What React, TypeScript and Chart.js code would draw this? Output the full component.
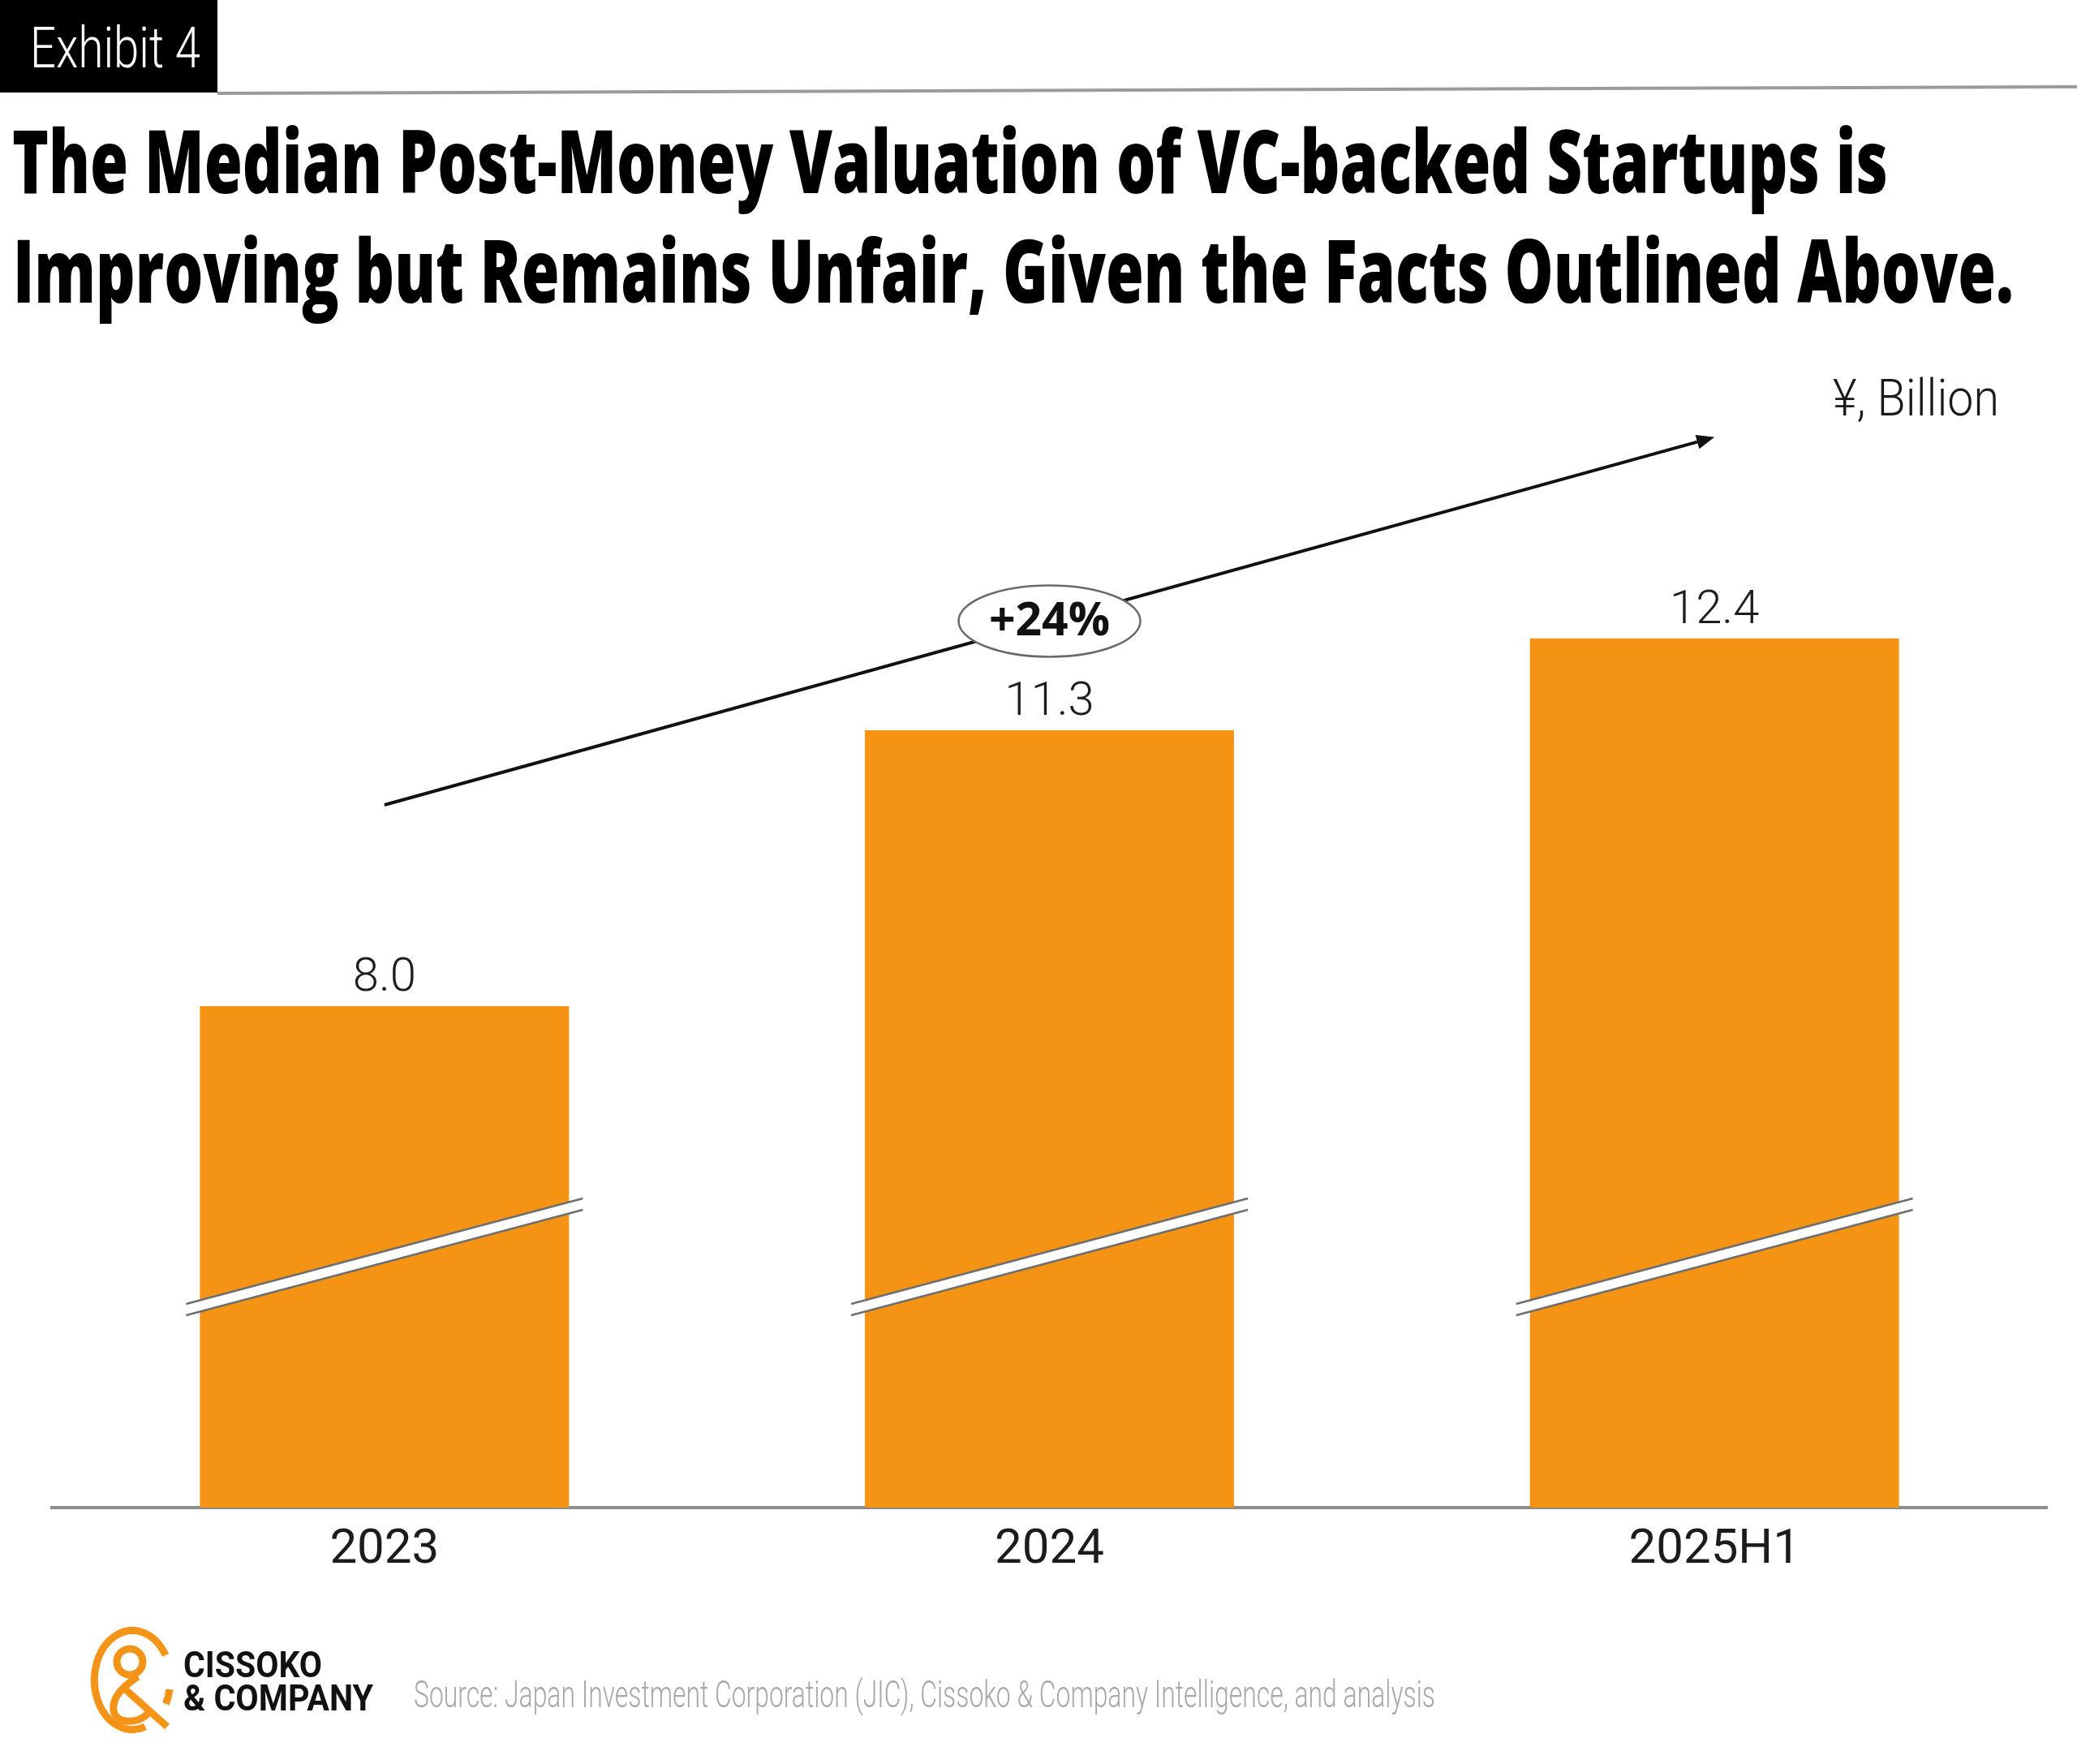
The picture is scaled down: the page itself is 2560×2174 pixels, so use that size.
import React, { useEffect, useRef } from 'react';
import { Chart, registerables } from 'chart.js';

Chart.register(...registerables);

// ---- data ----
const categories = ['2023', '2024', '2025H1'];
const valuations = [8.0, 11.3, 12.4];
const growthLabel = '+24%';
const axisMin = 2;
const axisMax = 14;
const breakAt = 5;

// ---- text ----
const exhibitLabel = 'Exhibit 4';
const titleLines = [
  'The Median Post-Money Valuation of VC-backed Startups is',
  'Improving but Remains Unfair, Given the Facts Outlined Above.',
];
const unitLabel = '¥, Billion';
const brandLines = ['CISSOKO', '& COMPANY'];
const sourceNote =
  'Source: Japan Investment Corporation (JIC), Cissoko & Company Intelligence, and analysis';

const BAR_COLOR = '#F49314';
const W = 2560;
const H = 2174;

// Axis-break marks, value labels, trend arrow and growth bubble
const annotatePlugin = {
  id: 'annotate',
  afterDatasetsDraw(chart: any) {
    const { ctx } = chart;
    const xs = chart.scales.x;
    const ys = chart.scales.y;
    const meta = chart.getDatasetMeta(0);
    ctx.save();

    // slanted double-line breaks across each bar
    const slope = -0.266;
    const gap = 7;
    const yc = ys.getPixelForValue(breakAt);
    meta.data.forEach((bar: any) => {
      const { x: bx, width } = bar.getProps(['x', 'width'], true);
      const half = width / 2 + 17;
      const xl = bx - half;
      const xr = bx + half;
      const yl = yc - slope * half;
      const yr = yc + slope * half;
      ctx.beginPath();
      ctx.moveTo(xl, yl - gap);
      ctx.lineTo(xr, yr - gap);
      ctx.lineTo(xr, yr + gap);
      ctx.lineTo(xl, yl + gap);
      ctx.closePath();
      ctx.fillStyle = '#ffffff';
      ctx.fill();
      ctx.strokeStyle = '#6e6e6e';
      ctx.lineWidth = 2.5;
      ctx.beginPath();
      ctx.moveTo(xl, yl - gap);
      ctx.lineTo(xr, yr - gap);
      ctx.stroke();
      ctx.beginPath();
      ctx.moveTo(xl, yl + gap);
      ctx.lineTo(xr, yr + gap);
      ctx.stroke();
    });

    // value labels above bars
    ctx.fillStyle = '#1e1e1e';
    ctx.font = '300 58px Roboto';
    ctx.textAlign = 'center';
    ctx.textBaseline = 'alphabetic';
    meta.data.forEach((bar: any, i: number) => {
      const { x: bx, y: by } = bar.getProps(['x', 'y'], true);
      ctx.fillText(valuations[i].toFixed(1), bx, by - 19);
    });

    // trend arrow from first to last bar
    const lift = 248;
    const last = valuations.length - 1;
    const x0 = xs.getPixelForValue(0);
    const y0 = ys.getPixelForValue(valuations[0]) - lift;
    const x1 = xs.getPixelForValue(last);
    const y1 = ys.getPixelForValue(valuations[last]) - lift;
    const ang = Math.atan2(y1 - y0, x1 - x0);
    const headLen = 22;
    const headHalf = 9;
    const bx1 = x1 - headLen * Math.cos(ang);
    const by1 = y1 - headLen * Math.sin(ang);
    ctx.strokeStyle = '#111111';
    ctx.lineWidth = 4;
    ctx.beginPath();
    ctx.moveTo(x0, y0);
    ctx.lineTo(bx1, by1);
    ctx.stroke();
    ctx.fillStyle = '#111111';
    ctx.beginPath();
    ctx.moveTo(x1, y1);
    ctx.lineTo(bx1 + headHalf * Math.sin(ang), by1 - headHalf * Math.cos(ang));
    ctx.lineTo(bx1 - headHalf * Math.sin(ang), by1 + headHalf * Math.cos(ang));
    ctx.closePath();
    ctx.fill();

    // growth bubble centred on the arrow above the middle bar
    const xm = xs.getPixelForValue(1);
    const ym = y0 + ((y1 - y0) * (xm - x0)) / (x1 - x0);
    ctx.beginPath();
    ctx.ellipse(xm, ym, 112, 44, 0, 0, Math.PI * 2);
    ctx.fillStyle = '#ffffff';
    ctx.fill();
    ctx.strokeStyle = '#6a6a6a';
    ctx.lineWidth = 2.5;
    ctx.stroke();
    ctx.fillStyle = '#111111';
    ctx.font = 'bold 57px "Open Sans"';
    ctx.textAlign = 'center';
    ctx.fillText(growthLabel, xm, ym + 18);

    ctx.restore();
  },
};

function ValuationChart() {
  const ref = useRef<HTMLCanvasElement | null>(null);

  useEffect(() => {
    if (!ref.current) return;
    const chart = new Chart(ref.current, {
      type: 'bar',
      data: {
        labels: categories,
        datasets: [
          {
            data: valuations,
            backgroundColor: BAR_COLOR,
            borderWidth: 0,
            barPercentage: 0.555,
            categoryPercentage: 1.0,
          },
        ],
      },
      options: {
        animation: false,
        responsive: false,
        devicePixelRatio: 1,
        events: [],
        layout: { padding: { left: 64, right: 37, top: 622, bottom: 196 } },
        plugins: {
          legend: { display: false },
          tooltip: { enabled: false },
          title: { display: false },
        },
        scales: {
          x: {
            offset: true,
            z: 1,
            grid: { display: false, drawTicks: false },
            border: { display: true, color: '#8c8c8c', width: 4 },
            ticks: {
              color: '#1c1c1c',
              font: { family: 'Roboto', size: 60, weight: '400' },
              padding: 17,
            },
            afterFit: (s: any) => {
              s.height = 120;
            },
          },
          y: {
            display: false,
            min: axisMin,
            max: axisMax,
          },
        },
      },
      plugins: [annotatePlugin],
    });
    return () => chart.destroy();
  }, []);

  return (
    <canvas
      ref={ref}
      width={W}
      height={H}
      style={{ position: 'absolute', left: 0, top: 0, width: W, height: H }}
    />
  );
}

function Overlay() {
  const orange = '#F39419';
  return (
    <svg
      width={W}
      height={H}
      style={{ position: 'absolute', left: 0, top: 0, pointerEvents: 'none' }}
    >
      {/* exhibit tab and header rule */}
      <rect x={0} y={0} width={268} height={114} fill="#000" />
      <text
        x={37}
        y={83}
        fill="#fff"
        fontFamily="Roboto"
        fontWeight={300}
        fontSize={71}
        textLength={210}
        lengthAdjust="spacingAndGlyphs"
      >
        {exhibitLabel}
      </text>
      <line x1={268} y1={115} x2={W} y2={107} stroke="#9b9b9b" strokeWidth={4} />

      {/* headline */}
      <text
        x={15}
        y={238}
        fill="#000"
        fontFamily="'Open Sans'"
        fontWeight={800}
        fontSize={109}
        textLength={2312}
        lengthAdjust="spacingAndGlyphs"
      >
        {titleLines[0]}
      </text>
      <text
        x={16}
        y={373}
        fill="#000"
        fontFamily="'Open Sans'"
        fontWeight={800}
        fontSize={109}
        textLength={2466}
        lengthAdjust="spacingAndGlyphs"
      >
        {titleLines[1]}
      </text>

      {/* unit */}
      <text
        x={2259}
        y={512}
        fill="#1a1a1a"
        fontFamily="Roboto"
        fontWeight={300}
        fontSize={63}
        textLength={205}
        lengthAdjust="spacingAndGlyphs"
      >
        {unitLabel}
      </text>

      {/* brand mark */}
      <g fill="none" stroke={orange} strokeWidth={9} strokeLinecap="butt">
        <path d="M 204 2040 A 47 61 0 1 0 179 2128" />
        <path d="M 209 2082 A 47 61 0 0 1 204.5 2100" />
        <circle cx={160} cy={2048} r={16} />
        <path d="M 170 2066 C 150 2080 138 2092 140 2108 C 142 2124 168 2126 182 2112" />
        <path d="M 150 2078 L 206 2128" />
      </g>
      <text
        x={226}
        y={2067}
        fill="#111"
        fontFamily="Roboto"
        fontWeight={700}
        fontSize={45}
        textLength={171}
        lengthAdjust="spacingAndGlyphs"
      >
        {brandLines[0]}
      </text>
      <text
        x={226}
        y={2108}
        fill="#111"
        fontFamily="Roboto"
        fontWeight={700}
        fontSize={45}
        textLength={234}
        lengthAdjust="spacingAndGlyphs"
      >
        {brandLines[1]}
      </text>

      {/* source */}
      <text
        x={510}
        y={2104}
        fill="#a8a8a8"
        fontFamily="Roboto"
        fontWeight={300}
        fontSize={46}
        textLength={1259}
        lengthAdjust="spacingAndGlyphs"
      >
        {sourceNote}
      </text>
    </svg>
  );
}

export default function App() {
  useEffect(() => {
    document.body.style.margin = '0';
  }, []);
  return (
    <div
      style={{
        position: 'absolute',
        left: 0,
        top: 0,
        width: W,
        height: H,
        background: '#fff',
        overflow: 'hidden',
      }}
    >
      <ValuationChart />
      <Overlay />
    </div>
  );
}
